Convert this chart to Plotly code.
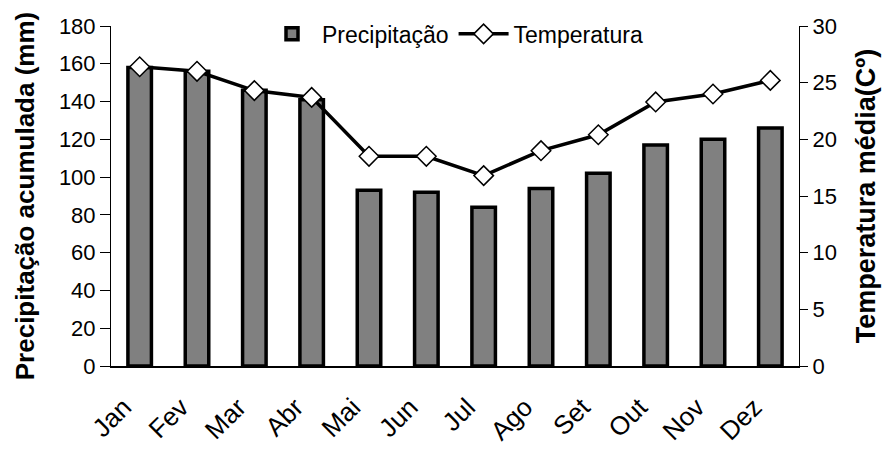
import plotly.graph_objects as go

months = ["Jan", "Fev", "Mar", "Abr", "Mai", "Jun", "Jul", "Ago", "Set", "Out", "Nov", "Dez"]
precip = [158, 156, 146, 141, 93, 92, 84, 94, 102, 117, 120, 126]
temp = [26.4, 26.0, 24.3, 23.7, 18.5, 18.5, 16.8, 19.0, 20.4, 23.3, 24.0, 25.2]

FONT = "Liberation Sans, Arial, sans-serif"

fig = go.Figure()
fig.add_trace(go.Bar(
    x=months, y=precip, name="Precipitação",
    marker=dict(color="#808080", line=dict(color="black", width=3.5)),
    width=0.41,
))
fig.add_trace(go.Scatter(
    x=months, y=temp, name="Temperatura", yaxis="y2",
    mode="lines+markers",
    line=dict(color="black", width=3.5),
    marker=dict(symbol="diamond", size=15, color="white", line=dict(color="black", width=1.5)),
))

fig.update_layout(
    width=883, height=451,
    margin=dict(l=111, r=84, t=26, b=85, autoexpand=False),
    paper_bgcolor="white", plot_bgcolor="white",
    font=dict(family=FONT, size=22, color="black"),
    showlegend=True,
    legend=dict(orientation="h", x=0.5, xanchor="center", y=1.04, yanchor="top",
                font=dict(size=23), bgcolor="rgba(0,0,0,0)", itemwidth=50),
    xaxis=dict(
        range=[-0.5, 11.5], autorange=False,
        showline=True, linecolor="black", linewidth=1.5,
        ticks="", tickangle=-45, tickfont=dict(size=26),
        showgrid=False, ticklabelstandoff=14, ticklabelshift=-16,
    ),
    yaxis=dict(
        range=[0, 180], dtick=20, showline=True, linecolor="black", linewidth=1,
        ticks="outside", ticklen=10, tickcolor="black", showgrid=False, zeroline=False,
        tickfont=dict(size=22),
        title=dict(text="<b>Precipitação acumulada (mm)</b>", font=dict(size=26), standoff=16),
    ),
    yaxis2=dict(
        range=[0, 30], dtick=5, overlaying="y", side="right",
        showline=True, linecolor="black", linewidth=1,
        ticks="outside", ticklen=8, tickcolor="black", showgrid=False, zeroline=False,
        tickfont=dict(size=22),
        title=dict(text="<b>Temperatura média(Cº)</b>", font=dict(size=27), standoff=20),
    ),
)

fig.write_html("out.html")
